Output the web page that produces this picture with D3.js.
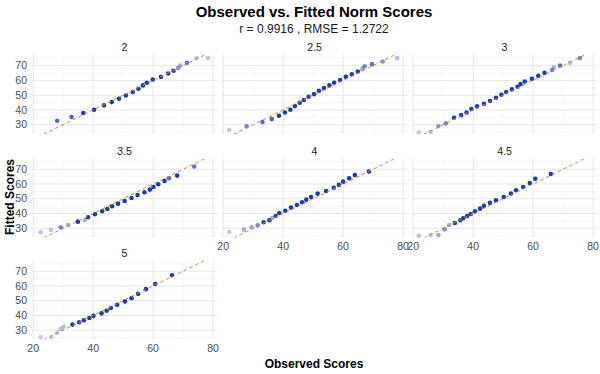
<!DOCTYPE html>
<html>
<head>
<meta charset="utf-8">
<script src="https://cdn.jsdelivr.net/npm/d3@7"></script>
<style>
  body { margin: 0; background: #fff; }
  text { font-family: "Liberation Sans", Arial, sans-serif; }
</style>
</head>
<body>
<div id="chart"></div>
<script>
// facet labels + header text
var facetLabels = ["2", "2.5", "3", "3.5", "4", "4.5", "5"];
var titleText = "Observed vs. Fitted Norm Scores";
var subtitleText = "r = 0.9916 , RMSE = 1.2722";
var xTicks = [20, 40, 60, 80];
var yTicks = [30, 40, 50, 60, 70];

// observed / fitted / point weight (shading) per facet
var obs_2 = [28.0, 32.8, 36.7, 40.3, 43.6, 46.2, 48.6, 50.9, 53.2, 55.1, 56.6, 57.9, 59.9, 62.6, 65.0, 66.8, 68.3, 69.1, 71.3, 74.5, 78.3];
var fit_2 = [32.7, 35.2, 37.9, 40.1, 43.1, 45.3, 47.6, 49.8, 52.1, 54.3, 56.6, 58.4, 60.6, 62.4, 64.7, 66.5, 68.3, 70.1, 71.9, 75.1, 75.1];
var wt_2  = [0.75, 0.8, 1, 1, 1, 1, 1, 1, 1, 1, 1, 1, 1, 1, 1, 1, 0.5, 0.4, 0.7, 0.3, 0.3];

var obs_25 = [22.0, 27.8, 33.1, 36.2, 38.6, 40.6, 42.4, 43.9, 45.5, 46.9, 48.5, 50.3, 51.9, 53.6, 55.4, 57.0, 59.0, 60.9, 62.9, 64.9, 66.4, 67.2, 69.6, 73.2, 78.0];
var fit_25 = [26.6, 28.9, 31.8, 33.8, 36.1, 38.3, 40.1, 42.6, 44.9, 46.7, 48.9, 50.7, 53.0, 54.8, 56.6, 58.4, 60.2, 62.4, 64.2, 66.0, 67.8, 69.6, 71.0, 72.8, 75.1];
var wt_25  = [0.3, 0.6, 0.75, 0.8, 1, 1, 1, 1, 1, 1, 1, 1, 1, 1, 1, 1, 1, 1, 1, 1, 0.45, 0.6, 0.7, 0.55, 0.35];

var obs_3 = [21.9, 25.8, 28.4, 30.9, 33.6, 36.0, 37.8, 39.4, 41.3, 43.6, 45.6, 47.6, 49.4, 51.0, 52.9, 54.8, 55.8, 57.2, 59.6, 61.7, 63.8, 66.3, 66.9, 69.0, 72.3, 75.6];
var fit_3 = [24.8, 25.1, 28.9, 30.9, 34.7, 36.5, 38.3, 40.6, 42.4, 44.2, 46.0, 48.2, 50.3, 52.1, 53.9, 55.7, 57.5, 59.3, 61.1, 63.1, 65.1, 67.0, 68.7, 70.1, 71.9, 75.1];
var wt_3  = [0.25, 0.3, 0.5, 0.6, 1, 1, 1, 1, 1, 1, 1, 1, 1, 1, 1, 1, 1, 1, 1, 1, 1, 0.6, 0.4, 0.7, 0.35, 0.6];

var obs_35 = [22.5, 25.9, 29.2, 31.7, 34.9, 37.2, 38.3, 40.6, 43.0, 44.7, 46.3, 48.3, 50.5, 52.8, 54.8, 57.1, 58.9, 60.1, 61.7, 63.8, 65.3, 68.0, 73.7];
var fit_35 = [27.3, 28.8, 30.7, 32.2, 34.5, 35.6, 37.5, 39.5, 41.5, 43.1, 44.9, 46.7, 48.5, 50.5, 52.6, 54.4, 56.2, 58.0, 59.8, 62.1, 63.9, 65.7, 71.8];
var wt_35  = [0.3, 0.3, 0.6, 0.45, 1, 0.4, 1, 1, 1, 1, 1, 1, 1, 1, 1, 1, 1, 1, 1, 1, 0.75, 1, 0.7];

var obs_4 = [22.0, 26.9, 29.5, 31.5, 33.5, 35.4, 36.3, 37.5, 38.7, 40.7, 42.6, 44.6, 46.3, 47.7, 49.3, 51.5, 54.3, 56.9, 58.6, 60.0, 62.0, 63.9, 68.6];
var fit_4 = [27.7, 29.1, 30.7, 32.0, 34.1, 35.4, 37.0, 38.3, 40.4, 41.9, 44.0, 45.8, 47.6, 49.4, 51.2, 53.5, 55.3, 57.5, 59.4, 61.6, 63.9, 66.1, 68.4];
var wt_4  = [0.3, 0.4, 0.45, 0.6, 1, 1, 0.4, 1, 1, 1, 1, 1, 1, 1, 1, 1, 1, 1, 1, 1, 1, 1, 1];

var obs_45 = [21.9, 25.8, 28.4, 30.5, 32.0, 33.9, 35.7, 36.7, 38.0, 39.2, 40.6, 42.3, 43.6, 45.6, 47.6, 50.2, 52.6, 54.3, 56.7, 58.9, 60.7, 65.9];
var fit_45 = [25.0, 25.5, 25.5, 29.3, 32.2, 33.6, 35.4, 36.8, 38.3, 39.7, 41.5, 43.3, 45.3, 47.2, 49.0, 51.2, 53.5, 55.8, 58.0, 60.7, 63.6, 66.8];
var wt_45  = [0.3, 0.3, 0.45, 0.55, 0.4, 1, 1, 1, 1, 1, 1, 1, 1, 1, 1, 1, 1, 1, 1, 1, 1, 1];

var obs_5 = [22.5, 26.1, 28.0, 29.2, 30.2, 33.1, 35.3, 36.9, 38.7, 40.1, 42.8, 44.5, 45.9, 48.0, 50.6, 52.8, 55.0, 57.6, 60.7, 66.3];
var fit_5 = [25.3, 25.3, 28.3, 30.9, 32.3, 33.8, 35.4, 36.7, 38.3, 39.7, 41.4, 43.2, 45.0, 47.2, 49.5, 51.7, 54.6, 57.8, 61.3, 67.2];
var wt_5  = [0.25, 0.25, 0.3, 0.3, 0.3, 1, 1, 1, 1, 1, 1, 1, 1, 1, 1, 1, 1, 1, 1, 1];

var facetObs = [obs_2, obs_25, obs_3, obs_35, obs_4, obs_45, obs_5];
var facetFit = [fit_2, fit_25, fit_3, fit_35, fit_4, fit_45, fit_5];
var facetWt  = [wt_2, wt_25, wt_3, wt_35, wt_4, wt_45, wt_5];

// layout
var svgWidth = 600;
var svgHeight = 374;
var panelW = 185;
var panelH = 79;
var colLeft = [32, 222, 412];
var rowTop = [55, 158.6, 260.5];

var svg = d3.select("#chart")
    .append("svg")
    .attr("width", svgWidth)
    .attr("height", svgHeight);

// shared scales (facets share axes)
var xScale = d3.scaleLinear().domain([19.6, 81.3]).range([0, panelW]);
var yScale = d3.scaleLinear().domain([23.7, 77.2]).range([panelH, 0]);

var xMinor = [30, 50, 70];
var yMinor = [25, 35, 45, 55, 65, 75];

svg.append("defs").append("clipPath")
    .attr("id", "panelClip")
    .append("rect")
    .attr("width", panelW)
    .attr("height", panelH);

facetLabels.forEach(function(label, i) {
    var col = i % 3;
    var row = Math.floor(i / 3);
    var g = svg.append("g")
        .attr("transform", `translate(${colLeft[col]}, ${rowTop[row]})`);

    // grid lines (minimal theme)
    g.selectAll(".xminor").data(xMinor).enter().append("line")
        .attr("x1", d => xScale(d)).attr("x2", d => xScale(d))
        .attr("y1", 0).attr("y2", panelH)
        .attr("stroke", "#f0f0f0").attr("stroke-width", 0.6);
    g.selectAll(".yminor").data(yMinor).enter().append("line")
        .attr("x1", 0).attr("x2", panelW)
        .attr("y1", d => yScale(d)).attr("y2", d => yScale(d))
        .attr("stroke", "#f0f0f0").attr("stroke-width", 0.6);
    g.selectAll(".xmajor").data(xTicks).enter().append("line")
        .attr("x1", d => xScale(d)).attr("x2", d => xScale(d))
        .attr("y1", 0).attr("y2", panelH)
        .attr("stroke", "#e6e6e6").attr("stroke-width", 1);
    g.selectAll(".ymajor").data(yTicks).enter().append("line")
        .attr("x1", 0).attr("x2", panelW)
        .attr("y1", d => yScale(d)).attr("y2", d => yScale(d))
        .attr("stroke", "#e6e6e6").attr("stroke-width", 1);

    // strip label
    g.append("text")
        .attr("x", panelW / 2)
        .attr("y", -4)
        .attr("text-anchor", "middle")
        .attr("font-size", 10.5)
        .attr("fill", "#1a1a1a")
        .text(label);

    // points
    var pts = facetObs[i].map((o, k) => ({ x: o, y: facetFit[i][k], w: facetWt[i][k] }));
    g.selectAll("circle").data(pts).enter().append("circle")
        .attr("cx", d => xScale(d.x))
        .attr("cy", d => yScale(d.y))
        .attr("r", 2.3)
        .attr("fill", "#1a3dae")
        .attr("opacity", d => d.w);

    // identity reference line
    g.append("line")
        .attr("clip-path", "url(#panelClip)")
        .attr("x1", xScale(19.6)).attr("y1", yScale(19.6))
        .attr("x2", xScale(81.3)).attr("y2", yScale(81.3))
        .attr("stroke", "#e07a3e")
        .attr("stroke-width", 1)
        .attr("stroke-dasharray", "3.5,3");

    // y axis labels only on first column
    if (col === 0) {
        g.selectAll(".ylab").data(yTicks).enter().append("text")
            .attr("x", -5)
            .attr("y", d => yScale(d))
            .attr("dy", "0.35em")
            .attr("text-anchor", "end")
            .attr("font-size", 10.5)
            .attr("fill", "#4d4d4d")
            .text(d => d);
    }
    // x axis labels on the bottom panel of each column
    if (row === 2 || (row === 1 && col > 0)) {
        g.selectAll(".xlab").data(xTicks).enter().append("text")
            .attr("x", d => xScale(d))
            .attr("y", panelH + 12)
            .attr("text-anchor", "middle")
            .attr("font-size", 10.5)
            .attr("fill", "#4d4d4d")
            .text(d => d);
    }
});

// titles
svg.append("text")
    .attr("x", 314)
    .attr("y", 17)
    .attr("text-anchor", "middle")
    .attr("font-size", 15)
    .attr("font-weight", "bold")
    .attr("fill", "#000")
    .text(titleText);

svg.append("text")
    .attr("x", 314)
    .attr("y", 33)
    .attr("text-anchor", "middle")
    .attr("font-size", 12)
    .attr("fill", "#1a1a1a")
    .text(subtitleText);

// axis titles
svg.append("text")
    .attr("x", 314)
    .attr("y", 368)
    .attr("text-anchor", "middle")
    .attr("font-size", 12)
    .attr("font-weight", "bold")
    .text("Observed Scores");

svg.append("text")
    .attr("transform", "translate(14, 197) rotate(-90)")
    .attr("text-anchor", "middle")
    .attr("font-size", 12)
    .attr("font-weight", "bold")
    .text("Fitted Scores");
</script>
</body>
</html>
